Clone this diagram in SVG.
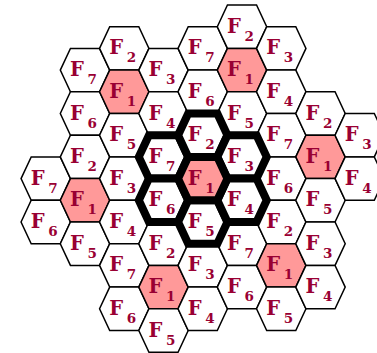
<svg xmlns="http://www.w3.org/2000/svg" xmlns:xlink="http://www.w3.org/1999/xlink" width="377" height="353" viewBox="0 0 377 353">
<defs>
<path id="hx" d="M-24.7,0 L-14.55,-21.7 L14.55,-21.7 L24.7,0 L14.55,21.7 L-14.55,21.7 Z"/>
</defs>
<style>
.h{fill:#ffffff;stroke:#000000;stroke-width:1.5;stroke-linejoin:miter}
.p{fill:#ff9999}
.t{stroke-width:8}
.l{font-family:"DejaVu Serif","Liberation Serif",serif;font-weight:bold;font-size:19.5px;fill:#990033}
.s{font-size:13.5px}
</style>
<rect width="377" height="353" fill="#ffffff"/>
<g id="cells">
<g id="cell-m4-a" transform="translate(45.75,178.6)"><use href="#hx" class="h"/><text class="l" x="-15" y="6">F<tspan class="s" x="2.5" y="14">7</tspan></text></g>
<g id="cell-m4-b" transform="translate(45.75,222)"><use href="#hx" class="h"/><text class="l" x="-15" y="6">F<tspan class="s" x="2.5" y="14">6</tspan></text></g>

<g id="cell-m3-a" transform="translate(85,70.1)"><use href="#hx" class="h"/><text class="l" x="-15" y="6">F<tspan class="s" x="2.5" y="14">7</tspan></text></g>
<g id="cell-m3-b" transform="translate(85,113.5)"><use href="#hx" class="h"/><text class="l" x="-15" y="6">F<tspan class="s" x="2.5" y="14">6</tspan></text></g>
<g id="cell-m3-c" transform="translate(85,156.9)"><use href="#hx" class="h"/><text class="l" x="-15" y="6">F<tspan class="s" x="2.5" y="14">2</tspan></text></g>
<g id="cell-m3-d" transform="translate(85,200.3)"><use href="#hx" class="h p"/><text class="l" x="-15" y="6">F<tspan class="s" x="2.5" y="14">1</tspan></text></g>
<g id="cell-m3-e" transform="translate(85,243.7)"><use href="#hx" class="h"/><text class="l" x="-15" y="6">F<tspan class="s" x="2.5" y="14">5</tspan></text></g>

<g id="cell-m2-a" transform="translate(124.25,48.4)"><use href="#hx" class="h"/><text class="l" x="-15" y="6">F<tspan class="s" x="2.5" y="14">2</tspan></text></g>
<g id="cell-m2-b" transform="translate(124.25,91.8)"><use href="#hx" class="h p"/><text class="l" x="-15" y="6">F<tspan class="s" x="2.5" y="14">1</tspan></text></g>
<g id="cell-m2-c" transform="translate(124.25,135.2)"><use href="#hx" class="h"/><text class="l" x="-15" y="6">F<tspan class="s" x="2.5" y="14">5</tspan></text></g>
<g id="cell-m2-d" transform="translate(124.25,178.6)"><use href="#hx" class="h"/><text class="l" x="-15" y="6">F<tspan class="s" x="2.5" y="14">3</tspan></text></g>
<g id="cell-m2-e" transform="translate(124.25,222)"><use href="#hx" class="h"/><text class="l" x="-15" y="6">F<tspan class="s" x="2.5" y="14">4</tspan></text></g>
<g id="cell-m2-f" transform="translate(124.25,265.4)"><use href="#hx" class="h"/><text class="l" x="-15" y="6">F<tspan class="s" x="2.5" y="14">7</tspan></text></g>
<g id="cell-m2-g" transform="translate(124.25,308.8)"><use href="#hx" class="h"/><text class="l" x="-15" y="6">F<tspan class="s" x="2.5" y="14">6</tspan></text></g>

<g id="cell-m1-a" transform="translate(163.5,70.1)"><use href="#hx" class="h"/><text class="l" x="-15" y="6">F<tspan class="s" x="2.5" y="14">3</tspan></text></g>
<g id="cell-m1-b" transform="translate(163.5,113.5)"><use href="#hx" class="h"/><text class="l" x="-15" y="6">F<tspan class="s" x="2.5" y="14">4</tspan></text></g>
<g id="cell-m1-e" transform="translate(163.5,243.7)"><use href="#hx" class="h"/><text class="l" x="-15" y="6">F<tspan class="s" x="2.5" y="14">2</tspan></text></g>
<g id="cell-m1-f" transform="translate(163.5,287.1)"><use href="#hx" class="h p"/><text class="l" x="-15" y="6">F<tspan class="s" x="2.5" y="14">1</tspan></text></g>
<g id="cell-m1-g" transform="translate(163.5,330.5)"><use href="#hx" class="h"/><text class="l" x="-15" y="6">F<tspan class="s" x="2.5" y="14">5</tspan></text></g>

<g id="cell-0-a" transform="translate(202.75,48.4)"><use href="#hx" class="h"/><text class="l" x="-15" y="6">F<tspan class="s" x="2.5" y="14">7</tspan></text></g>
<g id="cell-0-b" transform="translate(202.75,91.8)"><use href="#hx" class="h"/><text class="l" x="-15" y="6">F<tspan class="s" x="2.5" y="14">6</tspan></text></g>
<g id="cell-0-f" transform="translate(202.75,265.4)"><use href="#hx" class="h"/><text class="l" x="-15" y="6">F<tspan class="s" x="2.5" y="14">3</tspan></text></g>
<g id="cell-0-g" transform="translate(202.75,308.8)"><use href="#hx" class="h"/><text class="l" x="-15" y="6">F<tspan class="s" x="2.5" y="14">4</tspan></text></g>

<g id="cell-p1-a" transform="translate(242,26.7)"><use href="#hx" class="h"/><text class="l" x="-15" y="6">F<tspan class="s" x="2.5" y="14">2</tspan></text></g>
<g id="cell-p1-b" transform="translate(242,70.1)"><use href="#hx" class="h p"/><text class="l" x="-15" y="6">F<tspan class="s" x="2.5" y="14">1</tspan></text></g>
<g id="cell-p1-c" transform="translate(242,113.5)"><use href="#hx" class="h"/><text class="l" x="-15" y="6">F<tspan class="s" x="2.5" y="14">5</tspan></text></g>
<g id="cell-p1-f" transform="translate(242,243.7)"><use href="#hx" class="h"/><text class="l" x="-15" y="6">F<tspan class="s" x="2.5" y="14">7</tspan></text></g>
<g id="cell-p1-g" transform="translate(242,287.1)"><use href="#hx" class="h"/><text class="l" x="-15" y="6">F<tspan class="s" x="2.5" y="14">6</tspan></text></g>

<g id="cell-p2-a" transform="translate(281.25,48.4)"><use href="#hx" class="h"/><text class="l" x="-15" y="6">F<tspan class="s" x="2.5" y="14">3</tspan></text></g>
<g id="cell-p2-b" transform="translate(281.25,91.8)"><use href="#hx" class="h"/><text class="l" x="-15" y="6">F<tspan class="s" x="2.5" y="14">4</tspan></text></g>
<g id="cell-p2-c" transform="translate(281.25,135.2)"><use href="#hx" class="h"/><text class="l" x="-15" y="6">F<tspan class="s" x="2.5" y="14">7</tspan></text></g>
<g id="cell-p2-d" transform="translate(281.25,178.6)"><use href="#hx" class="h"/><text class="l" x="-15" y="6">F<tspan class="s" x="2.5" y="14">6</tspan></text></g>
<g id="cell-p2-e" transform="translate(281.25,222)"><use href="#hx" class="h"/><text class="l" x="-15" y="6">F<tspan class="s" x="2.5" y="14">2</tspan></text></g>
<g id="cell-p2-f" transform="translate(281.25,265.4)"><use href="#hx" class="h p"/><text class="l" x="-15" y="6">F<tspan class="s" x="2.5" y="14">1</tspan></text></g>
<g id="cell-p2-g" transform="translate(281.25,308.8)"><use href="#hx" class="h"/><text class="l" x="-15" y="6">F<tspan class="s" x="2.5" y="14">5</tspan></text></g>

<g id="cell-p3-a" transform="translate(320.5,113.5)"><use href="#hx" class="h"/><text class="l" x="-15" y="6">F<tspan class="s" x="2.5" y="14">2</tspan></text></g>
<g id="cell-p3-b" transform="translate(320.5,156.9)"><use href="#hx" class="h p"/><text class="l" x="-15" y="6">F<tspan class="s" x="2.5" y="14">1</tspan></text></g>
<g id="cell-p3-c" transform="translate(320.5,200.3)"><use href="#hx" class="h"/><text class="l" x="-15" y="6">F<tspan class="s" x="2.5" y="14">5</tspan></text></g>
<g id="cell-p3-d" transform="translate(320.5,243.7)"><use href="#hx" class="h"/><text class="l" x="-15" y="6">F<tspan class="s" x="2.5" y="14">3</tspan></text></g>
<g id="cell-p3-e" transform="translate(320.5,287.1)"><use href="#hx" class="h"/><text class="l" x="-15" y="6">F<tspan class="s" x="2.5" y="14">4</tspan></text></g>

<g id="cell-p4-a" transform="translate(359.75,135.2)"><use href="#hx" class="h"/><text class="l" x="-15" y="6">F<tspan class="s" x="2.5" y="14">3</tspan></text></g>
<g id="cell-p4-b" transform="translate(359.75,178.6)"><use href="#hx" class="h"/><text class="l" x="-15" y="6">F<tspan class="s" x="2.5" y="14">4</tspan></text></g>

<g id="center-F7" transform="translate(163.5,156.9)"><use href="#hx" class="h t"/><text class="l" x="-15" y="6">F<tspan class="s" x="2.5" y="14">7</tspan></text></g>
<g id="center-F6" transform="translate(163.5,200.3)"><use href="#hx" class="h t"/><text class="l" x="-15" y="6">F<tspan class="s" x="2.5" y="14">6</tspan></text></g>
<g id="center-F2" transform="translate(202.75,135.2)"><use href="#hx" class="h t"/><text class="l" x="-15" y="6">F<tspan class="s" x="2.5" y="14">2</tspan></text></g>
<g id="center-F5" transform="translate(202.75,222)"><use href="#hx" class="h t"/><text class="l" x="-15" y="6">F<tspan class="s" x="2.5" y="14">5</tspan></text></g>
<g id="center-F3" transform="translate(242,156.9)"><use href="#hx" class="h t"/><text class="l" x="-15" y="6">F<tspan class="s" x="2.5" y="14">3</tspan></text></g>
<g id="center-F4" transform="translate(242,200.3)"><use href="#hx" class="h t"/><text class="l" x="-15" y="6">F<tspan class="s" x="2.5" y="14">4</tspan></text></g>
<g id="center-F1" transform="translate(202.75,178.6)"><use href="#hx" class="h p t"/><text class="l" x="-15" y="6">F<tspan class="s" x="2.5" y="14">1</tspan></text></g>
</g>
</svg>
